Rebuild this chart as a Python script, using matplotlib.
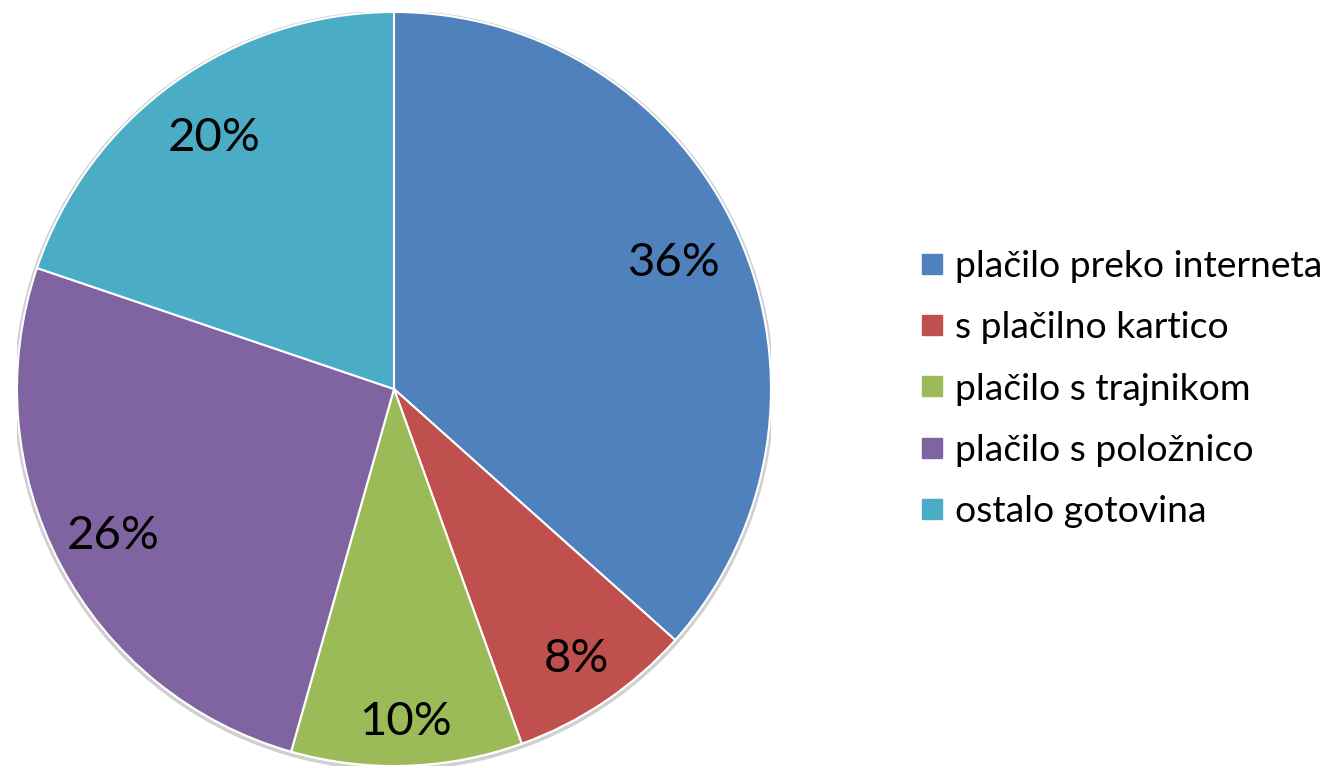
import numpy as np
import matplotlib.pyplot as plt
from matplotlib.lines import Line2D
from matplotlib.patches import Circle

plt.rcParams['font.family'] = ['Lato', 'DejaVu Sans']

labels = ['plačilo preko interneta', 's plačilno kartico', 'plačilo s trajnikom',
          'plačilo s položnico', 'ostalo gotovina']
shares = [36.6, 7.9, 9.9, 25.8, 19.8]
pct_text = ['36%', '8%', '10%', '26%', '20%']
colors = ['#4F81BD', '#C0504D', '#9BBB59', '#8064A2', '#4BACC6']
label_dist = [0.815, 0.865, 0.885, 0.84, 0.82]

W, H = 1328, 768
fig = plt.figure(figsize=(W / 100, H / 100), dpi=100)

# pie centre (394, 389) px, radius 377 px
cx, cy, r = 394, 389, 377
ax = fig.add_axes([(cx - r) / W, (H - cy - r) / H, 2 * r / W, 2 * r / H])
ax.add_patch(Circle((0, -0.004), 1.004, facecolor='none', edgecolor='#d0d0d0',
                    linewidth=2.5, zorder=0))
wedges, texts = ax.pie(shares, colors=colors, startangle=90, counterclock=False,
                       radius=1, wedgeprops=dict(edgecolor='white', linewidth=1.5))

for w, txt, d in zip(wedges, pct_text, label_dist):
    mid = np.deg2rad((w.theta1 + w.theta2) / 2)
    ax.text(d * np.cos(mid), d * np.sin(mid), txt, ha='center', va='center',
            fontsize=34, color='black')

ax.set_xlim(-1, 1)
ax.set_ylim(-1, 1)
ax.set_aspect('equal')
ax.axis('off')

handles = [Line2D([], [], marker='s', linestyle='none', markersize=14,
                  markerfacecolor=c, markeredgecolor=c) for c in colors]
fig.legend(handles, labels, loc='center left', bbox_to_anchor=(920 / W, 1 - 389 / H),
           frameon=False, fontsize=26.8, handlelength=0.65, handletextpad=0.3,
           labelspacing=0.76, borderaxespad=0, borderpad=0)

fig.savefig('out.png', dpi=100)
